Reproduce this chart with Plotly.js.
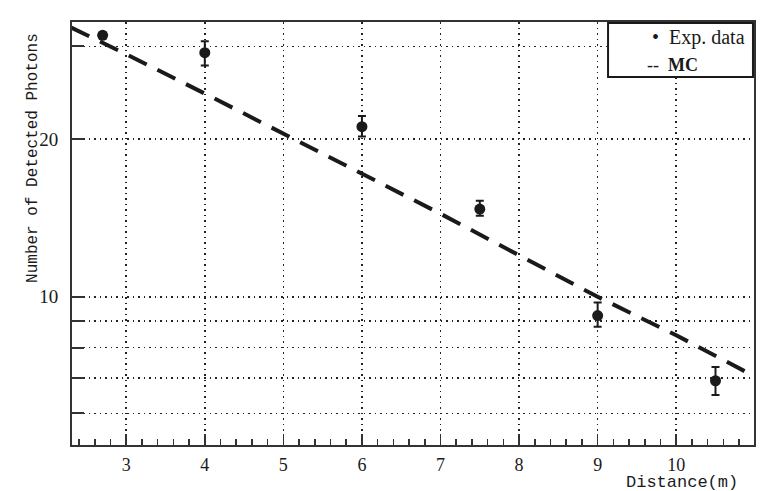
<!DOCTYPE html>
<html>
<head>
<meta charset="utf-8">
<script src="https://cdn.plot.ly/plotly-3.0.1.min.js"></script>
<style>
  html, body { margin: 0; padding: 0; background: #fff; }
  #chart { width: 765px; height: 491px; }
</style>
</head>
<body>
<div id="chart"></div>
<script>
// measured points
const distance = [2.7, 4, 6, 7.5, 9, 10.5];
const photons = [31.5, 29.2, 21.1, 14.7, 9.21, 6.92];
const errPlus = [0.4, 1.5, 1.0, 0.54, 0.54, 0.43];
const errMinus = [0.4, 1.6, 0.9, 0.43, 0.44, 0.42];

// simulation curve
const mcDistance = [2.3, 3, 4, 5, 6, 7, 8, 9, 10, 11];
const mcPhotons = [32.6, 29.0, 24.4, 20.5, 17.2, 14.4, 12.0, 10.0, 8.45, 7.05];

const xTicks = [3, 4, 5, 6, 7, 8, 9, 10];
const yTicks = [6, 7, 8, 9, 10, 20, 30];
const yTickText = ["", "", "", "", "10", "20", ""];

const ink = "#1a1a1a";
const serif = "Liberation Serif, serif";
const mono = "Liberation Mono, DejaVu Sans Mono, monospace";

const traces = [
  {
    x: mcDistance, y: mcPhotons, type: "scatter", mode: "lines", name: "MC",
    line: { color: ink, width: 4, dash: "20px,12px" }, hoverinfo: "skip"
  },
  {
    x: distance, y: photons, type: "scatter", mode: "markers", name: "Exp. data",
    marker: { color: ink, size: 11 },
    error_y: { type: "data", array: errPlus, arrayminus: errMinus, color: ink, thickness: 2, width: 4 }
  }
];

const layout = {
  width: 765, height: 491,
  margin: { l: 72, r: 11, t: 22, b: 46 },
  paper_bgcolor: "#fff", plot_bgcolor: "#fff",
  showlegend: false,
  font: { family: serif, color: ink, size: 18 },
  xaxis: {
    range: [2.31, 10.99],
    tickvals: xTicks,
    ticks: "inside", ticklen: 11, tickwidth: 1.5, tickcolor: "#333",
    minor: { dtick: 0.2, ticks: "inside", ticklen: 6, tickcolor: "#333", showgrid: false },
    showline: true, mirror: true, linecolor: "#333", linewidth: 2,
    showgrid: true, gridcolor: "#222", gridwidth: 1.5, griddash: "1.5px,4px",
    zeroline: false, ticklabelstandoff: 2,
    tickfont: { family: serif, size: 18, color: ink }
  },
  yaxis: {
    type: "log",
    range: [Math.log10(5.22), Math.log10(33.4)],
    tickvals: yTicks, ticktext: yTickText,
    ticks: "inside", ticklen: 12, tickwidth: 2, tickcolor: "#333",
    showline: true, mirror: true, linecolor: "#333", linewidth: 2,
    showgrid: true, gridcolor: "#222", gridwidth: 1.5, griddash: "1.5px,4px",
    zeroline: false, ticklabelstandoff: 8,
    tickfont: { family: serif, size: 19, color: ink }
  },
  shapes: [
    { type: "rect", xref: "paper", yref: "paper", x0: 0.786, x1: 0.9985, y0: 0.870, y1: 0.9976,
      line: { color: ink, width: 2 }, fillcolor: "#fff" }
  ],
  annotations: [
    { xref: "paper", yref: "paper", x: 0.99, y: 0.963, xanchor: "right", yanchor: "middle",
      text: "•  Exp. data", showarrow: false, font: { family: serif, size: 20, color: ink } },
    { xref: "paper", yref: "paper", x: 0.84, y: 0.898, xanchor: "left", yanchor: "middle",
      text: "--  <b>MC</b>", showarrow: false, font: { family: serif, size: 18, color: ink } },
    { xref: "paper", yref: "paper", x: 0.98, y: -0.089, xanchor: "right", yanchor: "middle",
      text: "Distance(m)", showarrow: false, font: { family: mono, size: 17, color: ink } },
    { xref: "paper", yref: "paper", x: -0.057, y: 0.679, xanchor: "center", yanchor: "middle",
      text: "Number of Detected Photons", textangle: -90, showarrow: false,
      font: { family: mono, size: 16, color: ink } }
  ]
};

Plotly.newPlot("chart", traces, layout, { displayModeBar: false, staticPlot: true });
</script>
</body>
</html>
